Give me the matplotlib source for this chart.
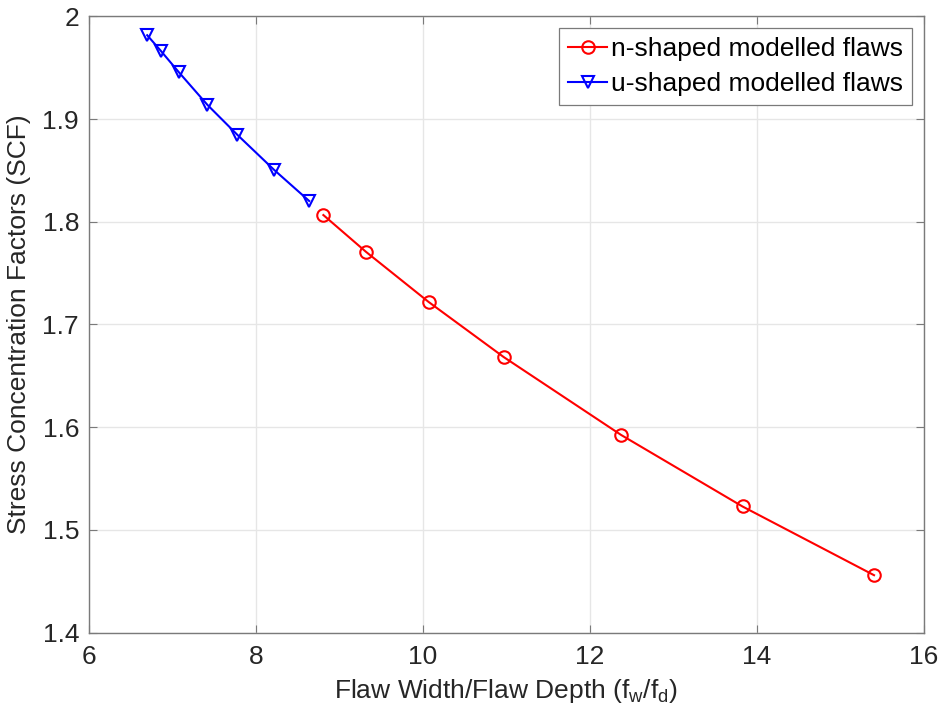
import matplotlib
matplotlib.use("Agg")
import matplotlib.pyplot as plt

plt.rcParams['font.family'] = ['Liberation Sans', 'DejaVu Sans']
plt.rcParams['mathtext.fontset'] = 'custom'
plt.rcParams['mathtext.rm'] = 'Liberation Sans'
plt.rcParams['mathtext.it'] = 'Liberation Sans'

n_x = [8.81, 9.32, 10.07, 10.97, 12.375, 13.83, 15.405]
n_y = [1.8065, 1.7707, 1.7219, 1.6682, 1.5924, 1.5227, 1.4558]
u_x = [6.70, 6.86, 7.08, 7.42, 7.78, 8.22, 8.64]
u_y = [1.9816, 1.9667, 1.9455, 1.9139, 1.8846, 1.8505, 1.8202]

xticks = [6, 8, 10, 12, 14, 16]
yticks = [1.4, 1.5, 1.6, 1.7, 1.8, 1.9, 2.0]
ytick_labels = ['1.4', '1.5', '1.6', '1.7', '1.8', '1.9', '2']

FS = 19

fig = plt.figure(figsize=(9.45, 7.19), dpi=100)
ax = fig.add_axes([0.0939, 0.1203, 0.8836, 0.857])

ax.plot(n_x, n_y, color='red', marker='o', markersize=9, markerfacecolor='none',
        markeredgewidth=1.5, linewidth=1.5, label='n-shaped modelled flaws')
ax.plot(u_x, u_y, color='blue', marker='v', markersize=9, markerfacecolor='none',
        markeredgewidth=1.5, linewidth=1.5, label='u-shaped modelled flaws')

ax.set_xlim(6, 16)
ax.set_ylim(1.4, 2.0)
ax.set_xticks(xticks)
ax.set_yticks(yticks)
ax.set_yticklabels(ytick_labels)
ax.grid(True, color='#e6e6e6', linewidth=1)
ax.set_axisbelow(True)
ax.tick_params(direction='in', length=6, width=0.8, labelsize=FS, top=True, right=True,
               labeltop=False, labelright=False, color='#7a7a7a', labelcolor='#262626')
ax.tick_params(axis='x', pad=9)
ax.tick_params(axis='y', pad=7)
for s in ax.spines.values():
    s.set_color('#7a7a7a')
    s.set_linewidth(1.0)

ax.set_xlabel(r'Flaw Width/Flaw Depth (f$_\mathregular{w}$/f$_\mathregular{d}$)', fontsize=FS,
              color='#262626', labelpad=6)
ax.set_ylabel('Stress Concentration Factors (SCF)', fontsize=FS, color='#262626', labelpad=8)

leg = ax.legend(loc='upper right', fontsize=FS, handlelength=1.45, handletextpad=0.15,
                borderpad=0.35, labelspacing=0.4, fancybox=False, framealpha=1,
                edgecolor='#7a7a7a', borderaxespad=0.45)
leg.get_frame().set_linewidth(0.9)

fig.savefig('out.png', dpi=100)
